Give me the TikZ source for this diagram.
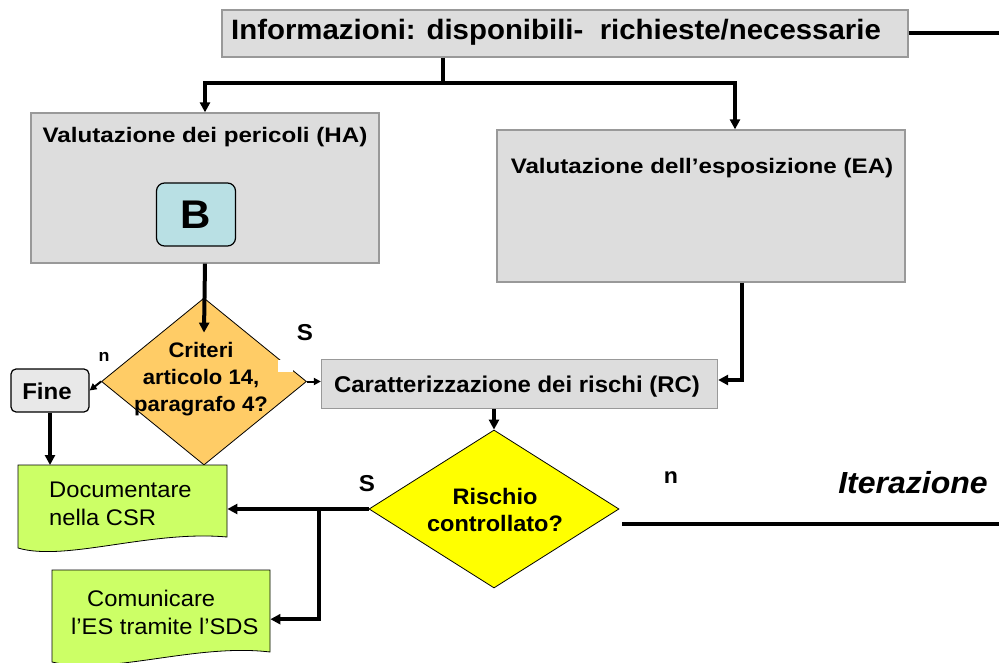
\documentclass[tikz,border=0pt]{standalone}
\usepackage{fontspec}
\setmainfont{Liberation Sans}[FakeStretch=1.05]
\newfontfamily\widefont{Liberation Sans}[FakeStretch=1.15]
\usetikzlibrary{arrows.meta,shapes.geometric}
\definecolor{boxgray}{HTML}{DDDDDD}
\definecolor{boxborder}{HTML}{999999}
\definecolor{orangefill}{HTML}{FFCC66}
\definecolor{yellowfill}{HTML}{FFFF00}
\definecolor{greenfill}{HTML}{CCFF66}
\definecolor{cyanfill}{HTML}{B9E0E4}
\definecolor{finefill}{HTML}{E8E8E8}
\newcommand{\fsz}[1]{\fontsize{#1}{#1}\selectfont}
\tikzset{
  conn/.style={line width=4pt, -{Triangle[length=10pt,width=10pt]}},
  plainline/.style={line width=4pt},
  thinarr/.style={line width=2pt, -{Triangle[length=7pt,width=7pt]}},
  graybox/.style={draw=boxborder, line width=1.3pt, fill=boxgray, inner sep=0pt},
  boxlabel/.style={inner sep=0pt, font=\widefont\fsz{21}\bfseries},
  dia/.style={diamond, draw=black, line width=0.8pt, inner sep=0pt},
  diatext/.style={inner sep=0pt, align=center, font=\fontsize{21}{27}\selectfont\bfseries},
  docshape/.style={draw=black, line width=0.8pt, fill=greenfill},
  doctext/.style={inner sep=0pt, align=left, font=\fontsize{22.6}{28}\selectfont},
  lab/.style={inner sep=0pt, font=\fsz{23}\bfseries},
}
\begin{document}
\begin{tikzpicture}[x=1pt,y=-1pt]
\path[use as bounding box, clip] (0,0) rectangle (999,663);
\fill[white] (0,0) rectangle (999,663);

% title
\node[graybox, minimum width=686pt, minimum height=47pt] (title) at (565,33.5) {};
\node[inner sep=0pt, font=\fsz{28}\bfseries] (titlet) at (556,32)
  {Informazioni: disponibili-\ \ richieste/necessarie};

% HA box
\node[graybox, minimum width=348pt, minimum height=150pt] (ha) at (205,188) {};
\node[boxlabel] (hat) at (205,137) {Valutazione dei pericoli (HA)};
\node[draw=black, line width=1.2pt, fill=cyanfill, rounded corners=8pt, minimum width=79pt, minimum height=63pt, inner sep=0pt, font=\fsz{40}\bfseries] (b) at (196,214.5) {B};

% EA box
\node[graybox, minimum width=408pt, minimum height=152pt] (ea) at (701,206) {};
\node[boxlabel] (eat) at (702,168) {Valutazione dell’esposizione (EA)};

% RC box
\node[graybox, minimum width=396pt, minimum height=49pt] (rc) at (519.5,384) {};
\node[inner sep=0pt, font=\fsz{22.8}\bfseries] (rct) at (517,387) {Caratterizzazione dei rischi (RC)};

% decision 1
\node[dia, fill=orangefill, minimum width=205pt, minimum height=167pt] (d1) at (204,381.5) {};
\fill[white] (278,360) rectangle (293,372);
\node[diatext] (d1t) at (201,379) {Criteri\\articolo 14,\\paragrafo 4?};

% Fine
\node[draw=black, line width=1.2pt, fill=finefill, rounded corners=5pt, minimum width=78pt, minimum height=43pt, inner sep=0pt] (fine) at (50,390.5) {};
\node[inner sep=0pt, font=\fsz{22.9}\bfseries] (finet) at (47,391) {Fine};

% decision 2
\node[dia, fill=yellowfill, minimum width=250pt, minimum height=158pt] (d2) at (494,509) {};
\node[diatext, font=\fontsize{22.4}{26.5}\selectfont\bfseries] (d2t) at (495,510) {Rischio\\controllato?};

% documents
\node[inner sep=0pt, minimum width=209pt, minimum height=73pt, anchor=north west] (doc1) at (18,465) {};
\draw[docshape] (18,465) -- (227,465) -- (227,537) .. controls (150,530) and (65,562) .. (18,548) -- cycle;
\node[doctext, anchor=west] (doc1t) at (49,503.5) {Documentare\\nella CSR};

\node[inner sep=0pt, minimum width=218pt, minimum height=82pt, anchor=north west] (doc2) at (52,570) {};
\draw[docshape] (52,570) -- (270,570) -- (270,652) .. controls (195,643) and (110,676) .. (52,662) -- cycle;
\node[doctext, anchor=west] (doc2t) at (71,612) {\hspace*{16pt}Comunicare\\l’ES tramite l’SDS};

% connectors
\coordinate (tj) at (443,83);
\coordinate (tr) at (999,33.5);
\draw[plainline] (title.east) -- (tr);
\draw[plainline] (tj |- title.south) -- (tj);
\draw[conn] (tj) -| (ha.north);
\draw[conn] (tj) -| ([xshift=34pt]ea.north);
\draw[conn] (ha.south) -- ([yshift=-35pt]d1.north);
\draw[thinarr] (d1.west) -- (fine.east);
\draw[conn] (fine.south) -- (fine.south |- doc1.north);
\draw[thinarr] (d1.east) -- (rc.west |- d1.east);
\draw[conn] ([xshift=41pt]ea.south) |- ([yshift=4pt]rc.east);
\draw[conn] (rc.south -| d2.north) -- (d2.north);
\draw[conn] (d2.west) -- (d2.west -| doc1.east);
\coordinate (br) at (319,509);
\draw[conn] (br) |- ([yshift=-8pt]doc2.east);
\coordinate (nb) at (622,524);
\coordinate (ne) at (999,524);
\draw[plainline] (nb) -- (ne);

% labels
\node[lab] (s1) at (305,333) {S};
\node[lab, font=\fsz{17}\bfseries] (n1) at (104,357) {n};
\node[lab] (s2) at (367,484) {S};
\node[lab, font=\fsz{22}\bfseries] (n2) at (671,478) {n};
\node[inner sep=0pt, font=\fsz{30.5}\bfseries\itshape] (iter) at (913,483) {Iterazione};
\end{tikzpicture}
\end{document}
